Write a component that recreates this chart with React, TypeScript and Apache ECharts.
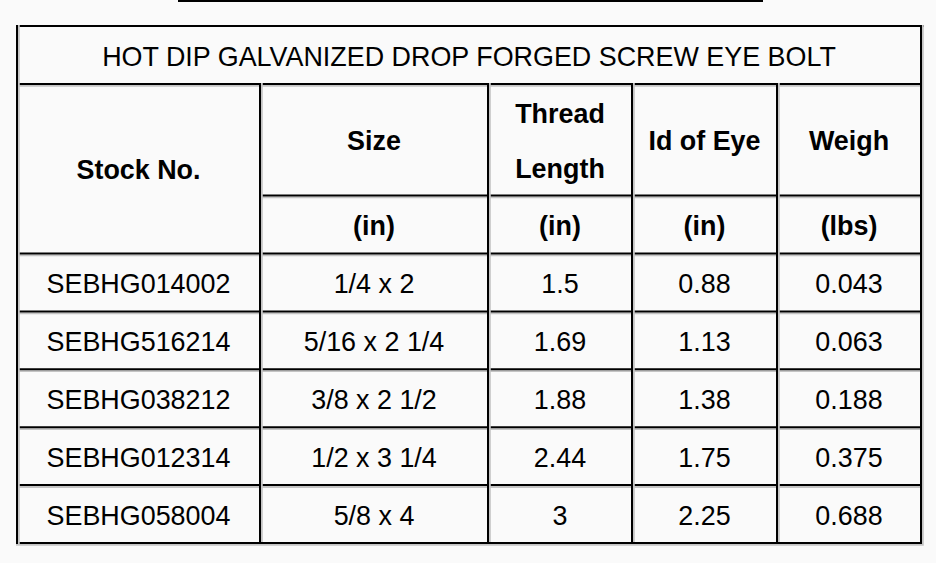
import React, { useEffect, useRef } from "react";
import * as echarts from "echarts";

const title = "HOT DIP GALVANIZED DROP FORGED SCREW EYE BOLT";
const headerTop = ["Stock No.", "Size", "Thread\nLength", "Id of Eye", "Weigh"];
const headerUnits = ["", "(in)", "(in)", "(in)", "(lbs)"];
const stockNos = ["SEBHG014002", "SEBHG516214", "SEBHG038212", "SEBHG012314", "SEBHG058004"];
const sizes = ["1/4 x 2", "5/16 x 2 1/4", "3/8 x 2 1/2", "1/2 x 3 1/4", "5/8 x 4"];
const threadLengths = ["1.5", "1.69", "1.88", "2.44", "3"];
const eyeIds = ["0.88", "1.13", "1.38", "1.75", "2.25"];
const weights = ["0.043", "0.063", "0.188", "0.375", "0.688"];

const FONT = "'Liberation Sans', Arial, Helvetica, sans-serif";
const DARK = "#000000";
const GRAY = "#c4c4c4";
const BG = "#fafafa";
const FS = 26.9;

export default function App() {
  const ref = useRef<HTMLDivElement>(null);
  useEffect(() => {
    document.body.style.margin = "0";
    document.body.style.background = BG;
    if (!ref.current) return;
    const chart = echarts.init(ref.current, null, { renderer: "svg" });

    const colX = [16, 259, 487, 631, 776, 920];
    const rowY = [25, 83, 194.5, 252.5];
    const rowH = 57.9;
    const nRows = stockNos.length;
    const dataRowY: number[] = [];
    for (let i = 0; i <= nRows; i++) dataRowY.push(rowY[3] + rowH * i);
    const bottom = dataRowY[nRows];
    const left = colX[0];
    const right = colX[5] + 2;
    const T = 2;
    const G = 1.8;
    const DY = 1.5;

    const els: any[] = [];
    const hLine = (x1: number, x2: number, y: number, shadow = true) => {
      if (shadow) els.push({ type: "rect", shape: { x: x1, y: y + T, width: x2 - x1, height: G }, style: { fill: GRAY } });
      els.push({ type: "rect", shape: { x: x1, y, width: x2 - x1, height: T }, style: { fill: DARK } });
    };
    const vLine = (x: number, y1: number, y2: number) => {
      els.push({ type: "rect", shape: { x: x + T, y: y1, width: G, height: y2 - y1 }, style: { fill: GRAY } });
      els.push({ type: "rect", shape: { x, y: y1, width: T, height: y2 - y1 }, style: { fill: DARK } });
    };
    const text = (s: string, x: number, y: number, bold = false, lh?: number) => {
      els.push({
        type: "text",
        x,
        y: y + DY,
        style: {
          text: s,
          fill: "#000",
          font: `${bold ? "bold " : ""}${FS}px ${FONT}`,
          fontFamily: FONT,
          fontSize: FS,
          fontWeight: bold ? "bold" : "normal",
          align: "center",
          verticalAlign: "middle",
          lineHeight: lh,
        },
      });
    };

    // decorative line at top of page
    els.push({ type: "rect", shape: { x: 178, y: 0, width: 585, height: 2 }, style: { fill: DARK } });

    // horizontal lines
    hLine(left, right + G, rowY[0], false);
    hLine(left + T, right, rowY[1]);
    hLine(colX[1], right, rowY[2]);
    for (let i = 0; i <= nRows; i++) hLine(left + T, right, dataRowY[i], i < nRows);
    // bottom shadow of table
    els.push({ type: "rect", shape: { x: left, y: bottom + T, width: right - left + G, height: G }, style: { fill: GRAY } });

    // vertical lines
    vLine(colX[0], rowY[0], bottom + T);
    for (let c = 1; c < 5; c++) vLine(colX[c], rowY[1], bottom);
    vLine(colX[5], rowY[0], bottom + T);

    const cx = (c: number) => (colX[c] + T + colX[c + 1]) / 2;
    const cy = (a: number, b: number) => (a + T + b) / 2;

    text(title, (left + right) / 2, cy(rowY[0], rowY[1]), false);
    // header
    text(headerTop[0], cx(0), cy(rowY[1], rowY[3]), true);
    for (let c = 1; c < 5; c++) {
      text(headerTop[c], cx(c), cy(rowY[1], rowY[2]), true, 55);
      text(headerUnits[c], cx(c), cy(rowY[2], rowY[3]), true);
    }
    const cols = [stockNos, sizes, threadLengths, eyeIds, weights];
    for (let r = 0; r < nRows; r++) {
      for (let c = 0; c < 5; c++) {
        text(cols[c][r], cx(c), cy(dataRowY[r], dataRowY[r + 1]));
      }
    }

    chart.setOption({
      animation: false,
      backgroundColor: BG,
      graphic: { elements: els },
    });
    return () => chart.dispose();
  }, []);
  return <div ref={ref} style={{ width: 936, height: 563 }} />;
}
